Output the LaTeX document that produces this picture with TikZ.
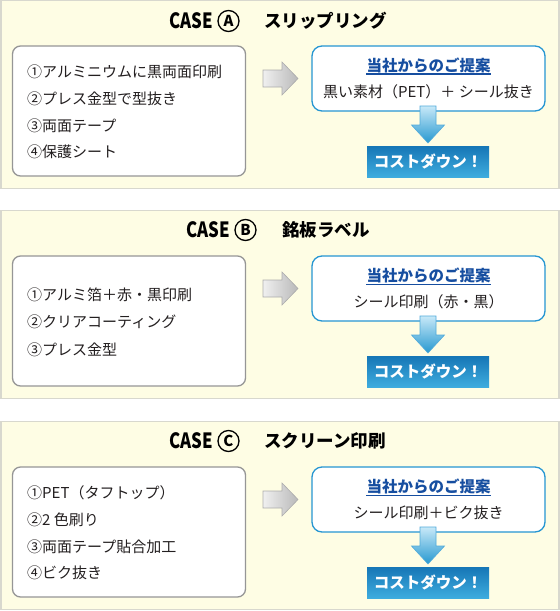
\documentclass[tikz,border=0pt]{standalone}
\usepackage{fontspec}
\setmainfont{Noto Sans CJK JP}
\usetikzlibrary{calc}
\definecolor{bgy}{RGB}{254,253,228}
\definecolor{pborder}{RGB}{216,216,206}
\definecolor{lgray}{RGB}{150,150,150}
\definecolor{bluebd}{RGB}{38,150,210}
\definecolor{headblue}{RGB}{22,78,160}
\definecolor{costtop}{RGB}{22,118,182}
\definecolor{costbot}{RGB}{62,172,222}
\definecolor{arrtop}{RGB}{200,233,248}
\definecolor{arrbot}{RGB}{38,152,208}
\definecolor{txt}{RGB}{35,31,32}
\tikzset{
  panel/.style={fill=bgy, draw=pborder, line width=1.3pt, inner sep=0pt, minimum width=558pt, minimum height=188pt},
  leftbox/.style={fill=white, draw=lgray, line width=1.3pt, rounded corners=8pt, inner sep=0pt, minimum width=233pt, minimum height=130pt},
  rightbox/.style={fill=white, draw=bluebd, line width=1.3pt, rounded corners=10pt, inner sep=0pt, minimum width=233pt, minimum height=65pt},
  costbox/.style={top color=costtop, bottom color=costbot, draw=none, text=white, inner sep=0pt, minimum width=122pt, minimum height=31pt, font=\bfseries\fontsize{15.5}{15.5}\selectfont},
  casetext/.style={text=black, anchor=west, inner sep=0pt, font=\bfseries\fontsize{21}{21}\selectfont},
  circletext/.style={circle, draw=black, line width=1.3pt, text=black, inner sep=0pt, minimum size=21pt, font=\bfseries\fontsize{15}{15}\selectfont},
  titletext/.style={text=black, anchor=west, inner sep=0pt, font=\bfseries\fontsize{17.5}{17.5}\selectfont},
  itemtext/.style={text=txt, anchor=west, inner sep=0pt, font=\fontsize{15}{15}\selectfont},
  headtext/.style={text=headblue, inner sep=0pt, font=\bfseries\fontsize{15.5}{15.5}\selectfont},
  proptext/.style={text=txt, inner sep=0pt, font=\fontsize{15}{15}\selectfont},
  grayarrow/.style={left color=gray!12, right color=gray!55, draw=gray!65, line width=0.6pt},
  bluearrow/.style={top color=arrtop, bottom color=arrbot, draw=bluebd!80, line width=0.6pt},
  uline/.style={draw=headblue, line width=1.3pt}
}
\begin{document}
\begin{tikzpicture}[x=1pt,y=-1pt]
\useasboundingbox (0,0) rectangle (560,611);
% ---------- CASE A ----------
\begin{scope}[shift={(0,0)}]
  \node[panel] (pa) at (280,94.5) {};
  \node[casetext] (ka) at (169,21) {\scalebox{0.8}[1]{CASE}};
  \node[circletext] (oa) at (228.5,21) {A};
  \node[titletext] (ta) at (264,21) {スリップリング};
  \node[leftbox] (la) at (129,111) {};
  \node[itemtext] (a1) at (27,72) {①アルミニウムに黒両面印刷};
  \node[itemtext] (a2) at (27,98.5) {②プレス金型で型抜き};
  \node[itemtext] (a3) at (27,125.5) {③両面テープ};
  \node[itemtext] (a4) at (27,152) {④保護シート};
  \node[rightbox] (ra) at (428.5,78.5) {};
  \node[headtext] (ha) at (428.5,65.5) {当社からのご提案};
  \draw[uline] ($(ha.base west)+(0,2.6)$) -- ($(ha.base east)+(0,2.6)$);
  \node[proptext] (xa) at (428.5,91.5) {黒い素材（PET）＋ シール抜き};
  \node[costbox] (ca) at (428,161.5) {コストダウン！};
  \path[grayarrow] (263,70) -- (282,70) -- (282,62) -- (298,78.5) -- (282,95) -- (282,87) -- (263,87) -- cycle;
  \path[bluearrow] (420,106) -- (436,106) -- (436,125) -- (444.5,125) -- (428,143) -- (411.5,125) -- (420,125) -- cycle;
\end{scope}
% ---------- CASE B ----------
\begin{scope}[shift={(0,210)}]
  \node[panel] (pb) at (280,94.5) {};
  \node[casetext] (kb) at (186,20) {\scalebox{0.8}[1]{CASE}};
  \node[circletext] (ob) at (245.5,20) {B};
  \node[titletext] (tb) at (282,20) {銘板ラベル};
  \node[leftbox] (lb) at (129,111) {};
  \node[itemtext] (b1) at (27,85) {①アルミ箔＋赤・黒印刷};
  \node[itemtext] (b2) at (27,112) {②クリアコーティング};
  \node[itemtext] (b3) at (27,140) {③プレス金型};
  \node[rightbox] (rb) at (428.5,78.5) {};
  \node[headtext] (hb) at (428.5,65.5) {当社からのご提案};
  \draw[uline] ($(hb.base west)+(0,2.6)$) -- ($(hb.base east)+(0,2.6)$);
  \node[proptext] (xb) at (428.5,91.5) {シール印刷（赤・黒）};
  \node[costbox] (cb) at (428,161.5) {コストダウン！};
  \path[grayarrow] (263,70) -- (282,70) -- (282,62) -- (298,78.5) -- (282,95) -- (282,87) -- (263,87) -- cycle;
  \path[bluearrow] (420,106) -- (436,106) -- (436,125) -- (444.5,125) -- (428,143) -- (411.5,125) -- (420,125) -- cycle;
\end{scope}
% ---------- CASE C ----------
\begin{scope}[shift={(0,421)}]
  \node[panel] (pc) at (280,94.5) {};
  \node[casetext] (kc) at (169,20) {\scalebox{0.8}[1]{CASE}};
  \node[circletext] (oc) at (228.5,20) {C};
  \node[titletext] (tc) at (264,20) {スクリーン印刷};
  \node[leftbox] (lc) at (129,111) {};
  \node[itemtext] (c1) at (27,72) {①PET（タフトップ）};
  \node[itemtext] (c2) at (27,98.5) {②2 色刷り};
  \node[itemtext] (c3) at (27,125.5) {③両面テープ貼合加工};
  \node[itemtext] (c4) at (27,152) {④ビク抜き};
  \node[rightbox] (rc) at (428.5,78.5) {};
  \node[headtext] (hc) at (428.5,65.5) {当社からのご提案};
  \draw[uline] ($(hc.base west)+(0,2.6)$) -- ($(hc.base east)+(0,2.6)$);
  \node[proptext] (xc) at (428.5,91.5) {シール印刷＋ビク抜き};
  \node[costbox] (cc) at (428,161.5) {コストダウン！};
  \path[grayarrow] (263,70) -- (282,70) -- (282,62) -- (298,78.5) -- (282,95) -- (282,87) -- (263,87) -- cycle;
  \path[bluearrow] (420,106) -- (436,106) -- (436,125) -- (444.5,125) -- (428,143) -- (411.5,125) -- (420,125) -- cycle;
\end{scope}
\end{tikzpicture}
\end{document}
